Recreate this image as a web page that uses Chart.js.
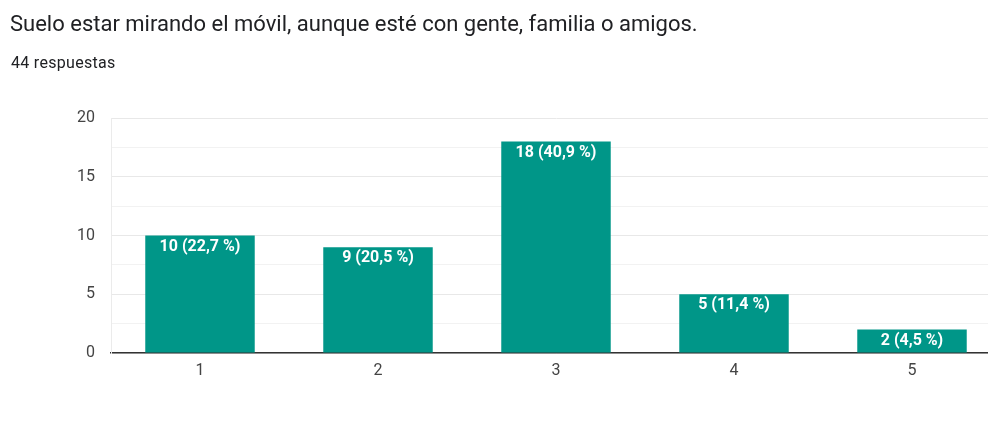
<!DOCTYPE html>
<html lang="es">
<head>
  <meta charset="UTF-8" />
  <title>Suelo estar mirando el móvil</title>
  <script src="https://cdn.jsdelivr.net/npm/chart.js"></script>
  <style>
    html, body {
      margin: 0;
      padding: 0;
      background: #ffffff;
      overflow: hidden;
      width: 988px;
      height: 442px;
      font-family: Roboto, Arial, sans-serif;
    }
    .title {
      position: absolute;
      left: 10px;
      top: 11px;
      font-size: 22px;
      color: #202124;
      white-space: nowrap;
    }
    .subtitle {
      position: absolute;
      left: 11px;
      top: 53px;
      font-size: 16px;
      letter-spacing: 0.3px;
      color: #202124;
    }
    .chart-box {
      position: absolute;
      left: 0;
      top: 0;
      width: 1010px;
      height: 442px;
    }
  </style>
</head>
<body>
  <div class="chart-box"><canvas id="chart"></canvas></div>
  <div class="title">Suelo estar mirando el móvil, aunque esté con gente, familia o amigos.</div>
  <div class="subtitle">44 respuestas</div>

  <script>
    const categories = ['1', '2', '3', '4', '5'];
    const counts = [10, 9, 18, 5, 2];
    const percents = ['22,7', '20,5', '40,9', '11,4', '4,5'];
    const yTicks = [0, 5, 10, 15, 20];

    const barColor = '#009688';
    const tickFont = { size: 16, family: 'Roboto, Arial, sans-serif' };

    // draws "n (p %)" inside the top of each bar
    const barLabels = {
      id: 'barLabels',
      afterDatasetsDraw(chart) {
        const ctx = chart.ctx;
        const meta = chart.getDatasetMeta(0);
        ctx.save();
        ctx.font = 'bold 16px Roboto, Arial, sans-serif';
        ctx.fillStyle = '#ffffff';
        ctx.textAlign = 'center';
        ctx.textBaseline = 'middle';
        meta.data.forEach((bar, i) => {
          ctx.fillText(counts[i] + ' (' + percents[i] + ' %)', bar.x, bar.y + 11);
        });
        ctx.restore();
      }
    };

    new Chart(document.getElementById('chart'), {
      type: 'bar',
      data: {
        labels: categories,
        datasets: [{
          data: counts,
          backgroundColor: barColor,
          borderWidth: 0,
          categoryPercentage: 1,
          barPercentage: 0.615
        }]
      },
      options: {
        responsive: true,
        maintainAspectRatio: false,
        animation: false,
        layout: { padding: { top: 118, right: 9, bottom: 0, left: 0 } },
        plugins: {
          legend: { display: false },
          tooltip: { enabled: false }
        },
        scales: {
          x: {
            grid: { display: false },
            border: { color: '#333333', width: 1.5 },
            ticks: { color: '#444444', font: tickFont, padding: 0 },
            afterFit(s) { s.height = 89; }
          },
          y: {
            min: 0,
            max: 20,
            afterBuildTicks(s) {
              s.ticks = [];
              for (let v = 0; v <= 20; v += 2.5) s.ticks.push({ value: v });
            },
            grid: {
              color: c => (c.tick && c.tick.value % 5 === 0) ? '#e8e8e8' : '#f2f2f2',
              drawTicks: false
            },
            border: { color: '#ebebeb' },
            ticks: {
              color: '#444444',
              font: tickFont,
              padding: 16,
              callback: v => yTicks.includes(v) ? v : ''
            },
            afterFit(s) { s.width = 111; }
          }
        }
      },
      plugins: [barLabels]
    });
  </script>
</body>
</html>
